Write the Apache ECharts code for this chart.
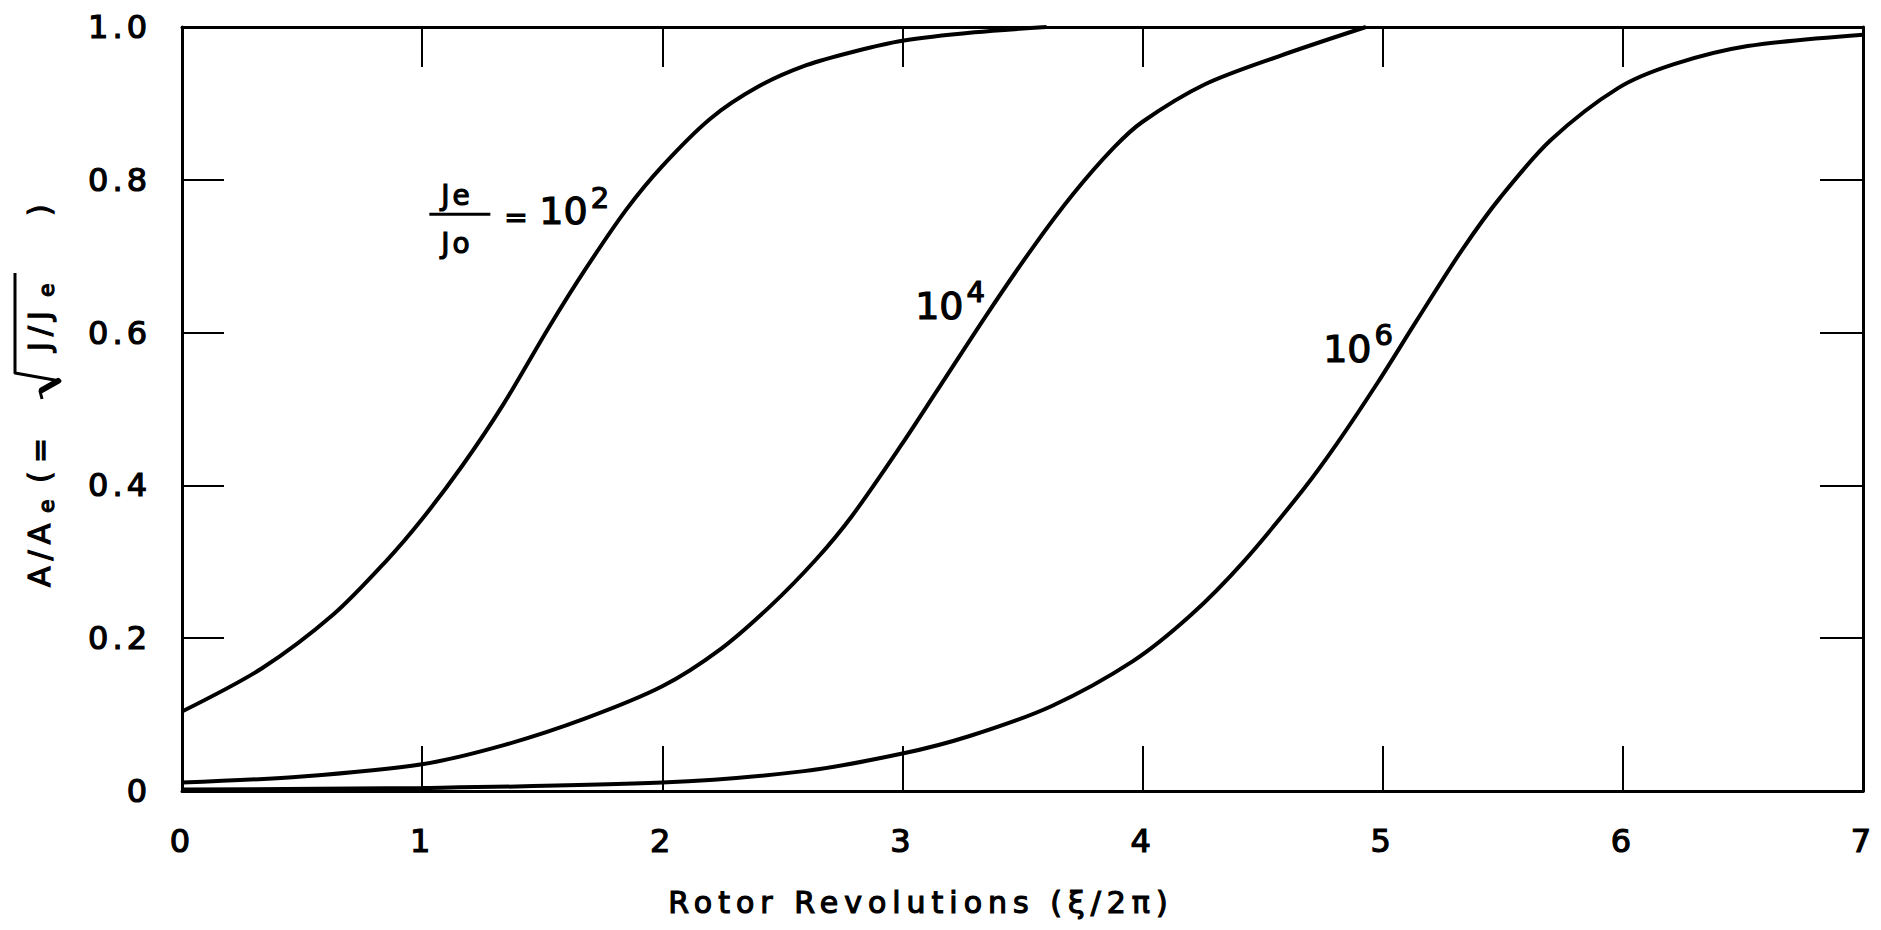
<!DOCTYPE html>
<html><head><meta charset="utf-8">
<script src="https://cdn.jsdelivr.net/npm/echarts@6/dist/echarts.min.js"></script>
<style>
html,body{margin:0;padding:0;background:#fff;}
#main{width:1881px;height:930px;}
#main text[style*="32px"]{letter-spacing:4px;}
#main text[style*="30px"]{letter-spacing:6px;}
#main text[style*="28px"]{letter-spacing:3px;}
</style></head><body><div id="main"></div>
<script>
// ---- data ----
const xTickLabels = ['0','1','2','3','4','5','6','7'];
const yTickLabels = ['0','0.2','0.4','0.6','0.8','1.0'];
const curveNames = ['Je/Jo = 10^2','10^4','10^6'];

const xCurve2 = [0, 0.33, 0.63, 0.85, 1.0, 1.17, 1.34, 1.53, 1.68, 1.85, 2.0, 2.2, 2.4, 2.6, 2.8, 3.0, 3.3, 3.6];
const yCurve2 = [0.104, 0.16, 0.231, 0.301, 0.356, 0.427, 0.507, 0.608, 0.683, 0.761, 0.818, 0.88, 0.922, 0.95, 0.968, 0.982, 0.993, 1.0];

const xCurve4 = [0, 0.5, 1.0, 1.34, 1.68, 2.0, 2.24, 2.45, 2.64, 2.79, 3.0, 3.14, 3.35, 3.54, 3.71, 3.88, 4.0, 4.26, 4.57, 4.93];
const yCurve4 = [0.011, 0.019, 0.035, 0.06, 0.095, 0.137, 0.185, 0.242, 0.303, 0.36, 0.455, 0.522, 0.623, 0.71, 0.781, 0.842, 0.876, 0.925, 0.962, 1.0];

const xCurve6 = [0, 1.0, 2.0, 2.59, 3.0, 3.28, 3.62, 3.96, 4.2, 4.42, 4.67, 4.81, 4.98, 5.14, 5.33, 5.49, 5.7, 5.98, 6.21, 6.52, 7.0];
const yCurve6 = [0.002, 0.004, 0.011, 0.026, 0.049, 0.072, 0.111, 0.17, 0.23, 0.3, 0.395, 0.455, 0.535, 0.615, 0.708, 0.777, 0.852, 0.92, 0.951, 0.975, 0.99];

// annotation anchors in data coordinates
const ann2Anchor = [1.03, 0.755];
const ann4Anchor = [3.053, 0.635];
const ann6Anchor = [4.752, 0.579];

const xTitle = 'Rotor Revolutions (ξ/2π)';

// ---- chart ----
const FONT = '"DejaVu Sans"';
const chart = echarts.init(document.getElementById('main'), null, {renderer: 'svg'});
const zip = (xs, ys) => xs.map((x, i) => [x, ys[i]]);
const axisLineStyle = {show: true, onZero: false, lineStyle: {color: '#000', width: 3}};
const tickStyle = (len) => ({show: true, inside: true, length: len, lineStyle: {color: '#000', width: 2}});

const lineSeries = (name, xs, ys) => ({
  name, type: 'line', data: zip(xs, ys), showSymbol: false, symbol: 'none',
  smooth: 0.3, clip: true,
  lineStyle: {color: '#000', width: 4}, silent: true, animation: false
});

const labelStyle = {fontSize: 32, fontFamily: 'DejaVu Sans', color: '#000',
  textBorderColor: '#000', textBorderWidth: 1.2};

const option = {
  animation: false,
  backgroundColor: '#fff',
  grid: {left: 182, right: 18, top: 27, bottom: 139, containLabel: false},
  xAxis: [
    {type: 'value', position: 'bottom', min: 0, max: 7, interval: 1,
     axisLine: axisLineStyle, axisTick: tickStyle(45), splitLine: {show: false},
     axisLabel: Object.assign({margin: 34, formatter: v => xTickLabels[Math.round(v)]}, labelStyle)},
    {type: 'value', position: 'top', min: 0, max: 7, interval: 1,
     axisLine: axisLineStyle, axisTick: tickStyle(40), splitLine: {show: false},
     axisLabel: {show: false}}
  ],
  yAxis: [
    {type: 'value', position: 'left', min: 0, max: 1, interval: 0.2,
     axisLine: axisLineStyle, axisTick: tickStyle(42), splitLine: {show: false},
     axisLabel: Object.assign({margin: 31, formatter: v => yTickLabels[Math.round(v / 0.2)]}, labelStyle)},
    {type: 'value', position: 'right', min: 0, max: 1, interval: 0.2,
     axisLine: axisLineStyle, axisTick: tickStyle(43), splitLine: {show: false},
     axisLabel: {show: false}}
  ],
  series: [
    lineSeries(curveNames[0], xCurve2, yCurve2),
    lineSeries(curveNames[1], xCurve4, yCurve4),
    lineSeries(curveNames[2], xCurve6, yCurve6)
  ]
};
chart.setOption(option);

// ---- text annotations ----
const mctx = document.createElement('canvas').getContext('2d');
function tw(text, font) { mctx.font = font; return mctx.measureText(text).width; }
function txt(text, x, y, size, extra) {
  return Object.assign({type: 'text', silent: true, style: {
    text, x, y, font: size + 'px ' + FONT, fill: '#000', stroke: '#000', lineWidth: 1.2,
    textAlign: 'left', textVerticalAlign: 'middle'}}, extra || {});
}
const px = p => chart.convertToPixel({gridIndex: 0}, p);

const a2 = px(ann2Anchor), a4 = px(ann4Anchor), a6 = px(ann6Anchor);
const w10 = tw('10', '38px ' + FONT);

const graphics = [
  // Je / Jo = 10^2
  {type: 'group', x: a2[0], y: a2[1], silent: true, children: [
    txt('Je', 12, -19, 28),
    {type: 'line', shape: {x1: 0, y1: 0, x2: 61, y2: 0}, style: {stroke: '#000', lineWidth: 3}},
    txt('Jo', 12, 29, 28),
    txt('=', 75, 3, 28),
    txt('10', 110, -3, 38),
    txt('2', 110 + w10 + 3, -16, 29)
  ]},
  {type: 'group', x: a4[0], y: a4[1], silent: true, children: [
    txt('10', 0, 0, 38),
    txt('4', w10 + 3, -14, 29)
  ]},
  {type: 'group', x: a6[0], y: a6[1], silent: true, children: [
    txt('10', 0, 0, 38),
    txt('6', w10 + 3, -14, 29)
  ]},
  // x-axis title
  {type: 'text', silent: true, x: 921, y: 902, style: {
    text: xTitle, font: '30px ' + FONT, fill: '#000', stroke: '#000', lineWidth: 1.2,
    textAlign: 'center', textVerticalAlign: 'middle'}},
  // y-axis title (rotated)
  {type: 'group', x: 39, y: 587, rotation: Math.PI / 2, silent: true, children: [
    txt('A/A', 0, 0, 30),
    txt('e', 74, 7, 22),
    txt('(', 104, 0, 30),
    txt('=', 124, 0, 30),
    {type: 'polyline', shape: {points: [[188, 3], [196, 1], [206, 21], [214, -24], [314, -24]]},
     style: {stroke: '#000', lineWidth: 3, fill: null, lineJoin: 'round'}},
    {type: 'polyline', shape: {points: [[197, 3], [206, 19]]},
     style: {stroke: '#000', lineWidth: 6, fill: null, lineCap: 'round'}},
    txt('J/J', 236, 0, 30),
    txt('e', 290, 7, 22),
    txt(')', 371, 0, 30)
  ]}
];
chart.setOption({graphic: graphics});
</script></body></html>
